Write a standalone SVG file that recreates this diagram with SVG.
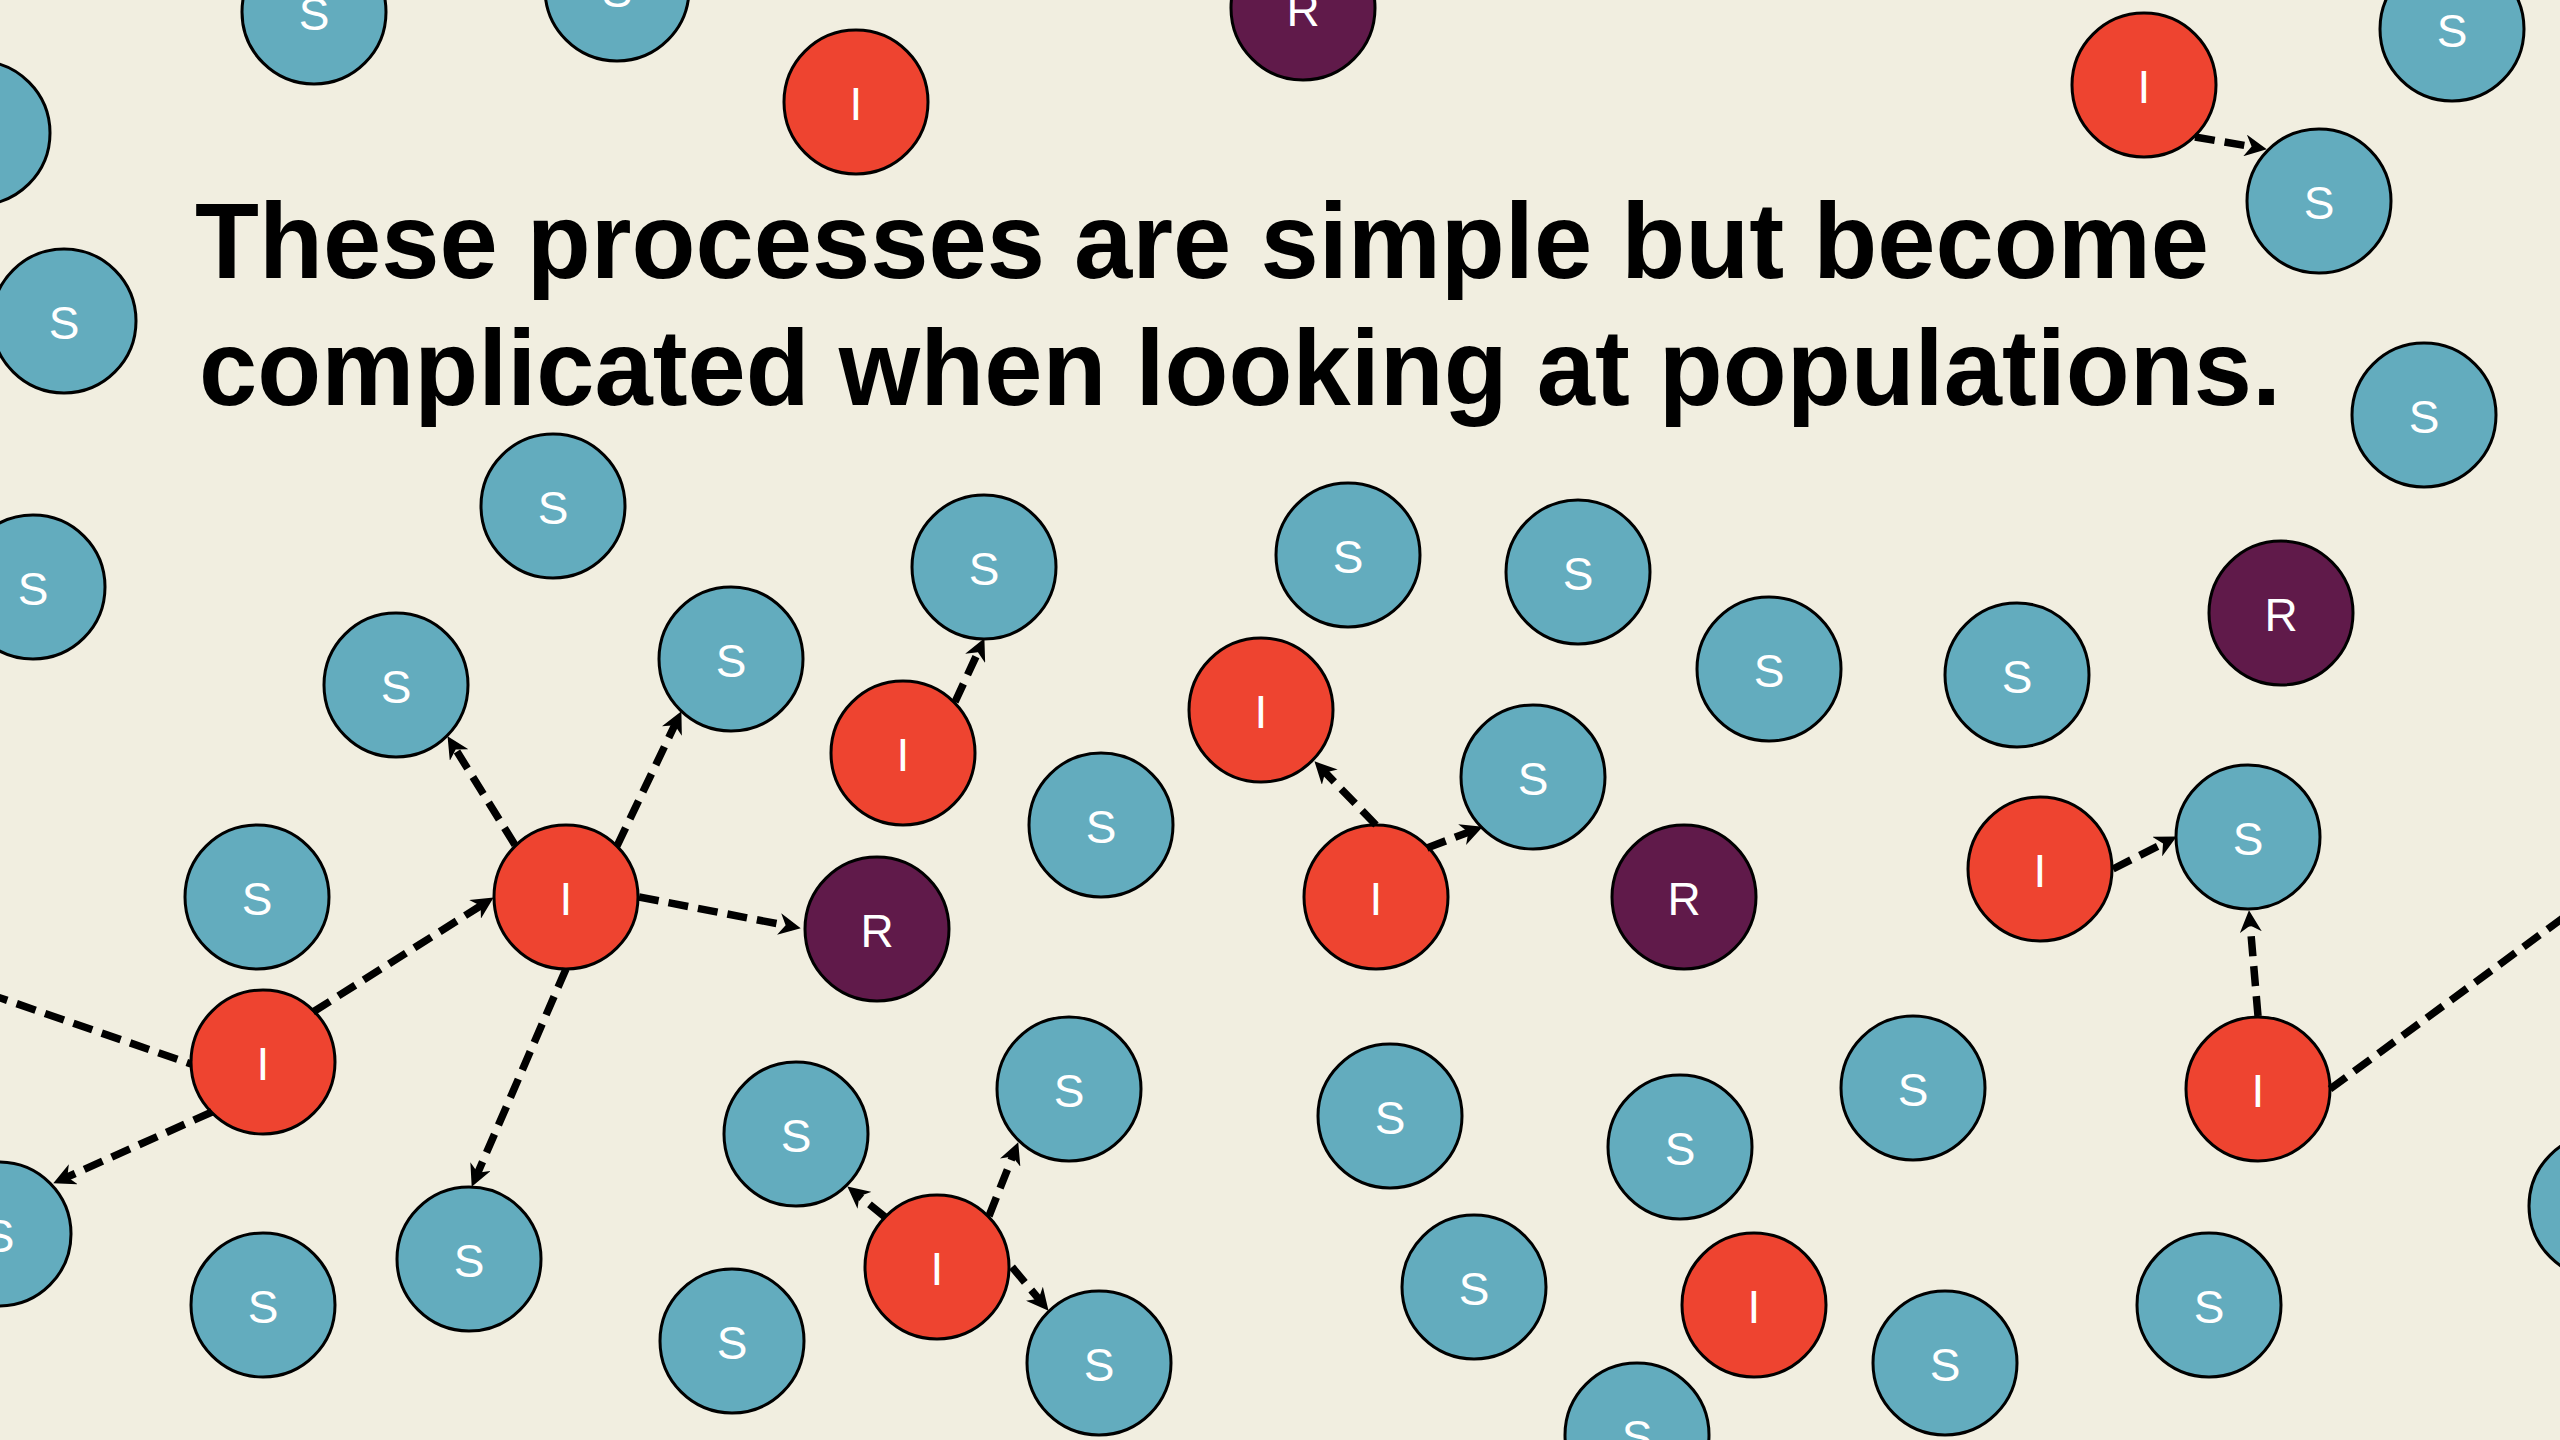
<svg xmlns="http://www.w3.org/2000/svg" width="2560" height="1440" viewBox="0 0 2560 1440">
  <defs>
    <style>
      .node circle { stroke: #000; stroke-width: 3; }
      .s circle { fill: #63ACBE; }
      .i circle { fill: #EE4430; }
      .r circle { fill: #601A4A; }
      .node text { font-family: "Liberation Sans", Arial, sans-serif; font-size: 46px; fill: #FFFFFF; text-anchor: middle; }
      .link { fill: none; stroke: #000; stroke-width: 7.5; stroke-dasharray: 20 10; }
      .arrow { marker-end: url(#stealth); }
      .title { font-family: "Liberation Sans", Arial, sans-serif; font-weight: bold; font-size: 108px; fill: #000; }
    </style>
    <marker id="stealth" viewBox="0 0 20 20" markerWidth="22" markerHeight="22" refX="12" refY="10" markerUnits="userSpaceOnUse" orient="auto">
      <path d="M0,0 L20,10 L0,20 L6,10 z" fill="#000"/>
    </marker>
  </defs>

  <rect width="2560" height="1440" fill="#F1EEE0"/>

  <!-- susceptible -->
  <g id="s01" class="node s"><circle cx="314" cy="12" r="72"/><text x="314" y="30">S</text></g>
  <g id="s02" class="node s"><circle cx="617" cy="-11" r="72"/><text x="617" y="7">S</text></g>
  <g id="s03" class="node s"><circle cx="-22" cy="133" r="72"/><text x="-22" y="151">S</text></g>
  <g id="s04" class="node s"><circle cx="64" cy="321" r="72"/><text x="64" y="339">S</text></g>
  <g id="s05" class="node s"><circle cx="2452" cy="29" r="72"/><text x="2452" y="47">S</text></g>
  <g id="s06" class="node s"><circle cx="2319" cy="201" r="72"/><text x="2319" y="219">S</text></g>
  <g id="s07" class="node s"><circle cx="2424" cy="415" r="72"/><text x="2424" y="433">S</text></g>
  <g id="s08" class="node s"><circle cx="553" cy="506" r="72"/><text x="553" y="524">S</text></g>
  <g id="s09" class="node s"><circle cx="33" cy="587" r="72"/><text x="33" y="605">S</text></g>
  <g id="s10" class="node s"><circle cx="984" cy="567" r="72"/><text x="984" y="585">S</text></g>
  <g id="s11" class="node s"><circle cx="1348" cy="555" r="72"/><text x="1348" y="573">S</text></g>
  <g id="s12" class="node s"><circle cx="1578" cy="572" r="72"/><text x="1578" y="590">S</text></g>
  <g id="s13" class="node s"><circle cx="1769" cy="669" r="72"/><text x="1769" y="687">S</text></g>
  <g id="s14" class="node s"><circle cx="2017" cy="675" r="72"/><text x="2017" y="693">S</text></g>
  <g id="s15" class="node s"><circle cx="396" cy="685" r="72"/><text x="396" y="703">S</text></g>
  <g id="s16" class="node s"><circle cx="731" cy="659" r="72"/><text x="731" y="677">S</text></g>
  <g id="s17" class="node s"><circle cx="1533" cy="777" r="72"/><text x="1533" y="795">S</text></g>
  <g id="s18" class="node s"><circle cx="1101" cy="825" r="72"/><text x="1101" y="843">S</text></g>
  <g id="s19" class="node s"><circle cx="257" cy="897" r="72"/><text x="257" y="915">S</text></g>
  <g id="s20" class="node s"><circle cx="2248" cy="837" r="72"/><text x="2248" y="855">S</text></g>
  <g id="s21" class="node s"><circle cx="-1" cy="1234" r="72"/><text x="-1" y="1252">S</text></g>
  <g id="s22" class="node s"><circle cx="796" cy="1134" r="72"/><text x="796" y="1152">S</text></g>
  <g id="s23" class="node s"><circle cx="1069" cy="1089" r="72"/><text x="1069" y="1107">S</text></g>
  <g id="s24" class="node s"><circle cx="1099" cy="1363" r="72"/><text x="1099" y="1381">S</text></g>
  <g id="s25" class="node s"><circle cx="469" cy="1259" r="72"/><text x="469" y="1277">S</text></g>
  <g id="s26" class="node s"><circle cx="263" cy="1305" r="72"/><text x="263" y="1323">S</text></g>
  <g id="s27" class="node s"><circle cx="732" cy="1341" r="72"/><text x="732" y="1359">S</text></g>
  <g id="s28" class="node s"><circle cx="1390" cy="1116" r="72"/><text x="1390" y="1134">S</text></g>
  <g id="s29" class="node s"><circle cx="1680" cy="1147" r="72"/><text x="1680" y="1165">S</text></g>
  <g id="s30" class="node s"><circle cx="1913" cy="1088" r="72"/><text x="1913" y="1106">S</text></g>
  <g id="s31" class="node s"><circle cx="1474" cy="1287" r="72"/><text x="1474" y="1305">S</text></g>
  <g id="s32" class="node s"><circle cx="1945" cy="1363" r="72"/><text x="1945" y="1381">S</text></g>
  <g id="s33" class="node s"><circle cx="1637" cy="1435" r="72"/><text x="1637" y="1453">S</text></g>
  <g id="s34" class="node s"><circle cx="2209" cy="1305" r="72"/><text x="2209" y="1323">S</text></g>
  <g id="s35" class="node s"><circle cx="2601" cy="1206" r="72"/><text x="2601" y="1224">S</text></g>

  <!-- infected -->
  <g id="i01" class="node i"><circle cx="856" cy="102" r="72"/><text x="856" y="120">I</text></g>
  <g id="i02" class="node i"><circle cx="2144" cy="85" r="72"/><text x="2144" y="103">I</text></g>
  <g id="i03" class="node i"><circle cx="903" cy="753" r="72"/><text x="903" y="771">I</text></g>
  <g id="i04" class="node i"><circle cx="1261" cy="710" r="72"/><text x="1261" y="728">I</text></g>
  <g id="i05" class="node i"><circle cx="566" cy="897" r="72"/><text x="566" y="915">I</text></g>
  <g id="i06" class="node i"><circle cx="1376" cy="897" r="72"/><text x="1376" y="915">I</text></g>
  <g id="i07" class="node i"><circle cx="2040" cy="869" r="72"/><text x="2040" y="887">I</text></g>
  <g id="i08" class="node i"><circle cx="263" cy="1062" r="72"/><text x="263" y="1080">I</text></g>
  <g id="i09" class="node i"><circle cx="2258" cy="1089" r="72"/><text x="2258" y="1107">I</text></g>
  <g id="i10" class="node i"><circle cx="937" cy="1267" r="72"/><text x="937" y="1285">I</text></g>
  <g id="i11" class="node i"><circle cx="1754" cy="1305" r="72"/><text x="1754" y="1323">I</text></g>

  <!-- recovered -->
  <g id="r01" class="node r"><circle cx="1303" cy="8" r="72"/><text x="1303" y="26">R</text></g>
  <g id="r02" class="node r"><circle cx="2281" cy="613" r="72"/><text x="2281" y="631">R</text></g>
  <g id="r03" class="node r"><circle cx="877" cy="929" r="72"/><text x="877" y="947">R</text></g>
  <g id="r04" class="node r"><circle cx="1684" cy="897" r="72"/><text x="1684" y="915">R</text></g>

  <!-- transmission links -->
  <g id="connectors">
    <line class="link" x1="-40" y1="984" x2="191" y2="1064"/>
    <line class="link arrow" x1="212" y1="1112" x2="61.3" y2="1179.7"/>
    <line class="link arrow" x1="313" y1="1012" x2="486.2" y2="902.3"/>
    <line class="link arrow" x1="639" y1="897" x2="792.1" y2="926.5"/>
    <line class="link arrow" x1="566" y1="969" x2="475.2" y2="1178.7"/>
    <line class="link arrow" x1="515" y1="845" x2="452.2" y2="743.8"/>
    <line class="link arrow" x1="617" y1="846" x2="677.6" y2="719.2"/>
    <line class="link arrow" x1="955" y1="702" x2="980.7" y2="646.3"/>
    <line class="link arrow" x1="1376" y1="825" x2="1320.6" y2="767.7"/>
    <line class="link arrow" x1="1427" y1="848" x2="1474.5" y2="829.9"/>
    <line class="link arrow" x1="2195" y1="137" x2="2258.1" y2="147.7"/>
    <line class="link arrow" x1="2113" y1="869" x2="2168.9" y2="840.6"/>
    <line class="link arrow" x1="2258" y1="1016" x2="2249.7" y2="919"/>
    <line class="link" x1="2330" y1="1089" x2="2620" y2="876"/>
    <line class="link arrow" x1="885" y1="1217" x2="854.2" y2="1192"/>
    <line class="link arrow" x1="989" y1="1216" x2="1015" y2="1150.4"/>
    <line class="link arrow" x1="1012" y1="1267" x2="1042.9" y2="1303.9"/>
  </g>

  <!-- heading -->
  <text class="title" x="195" y="278" textLength="2014" lengthAdjust="spacingAndGlyphs">These processes are simple but become</text>
  <text class="title" x="199" y="405" textLength="2082" lengthAdjust="spacingAndGlyphs">complicated when looking at populations.</text>
</svg>
